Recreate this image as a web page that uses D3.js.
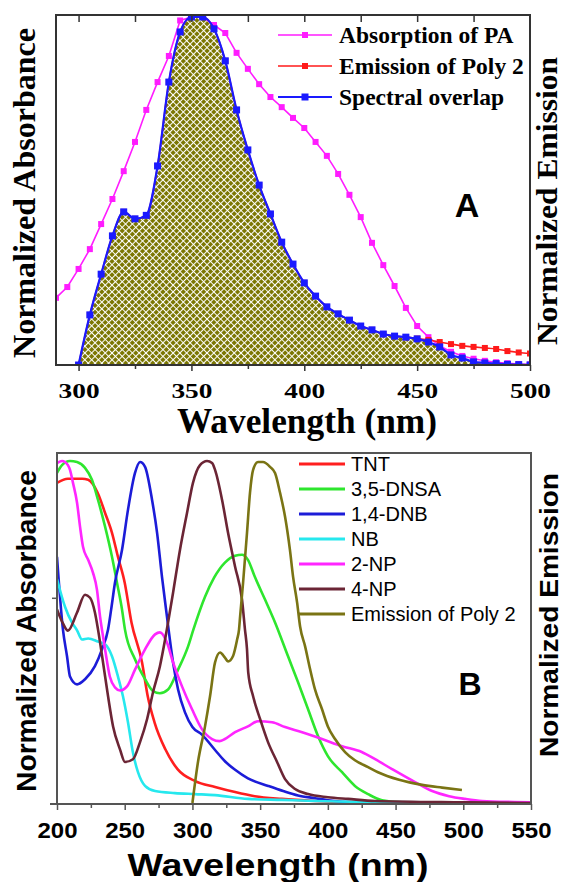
<!DOCTYPE html>
<html>
<head>
<meta charset="utf-8">
<script src="https://cdn.jsdelivr.net/npm/d3@7/dist/d3.min.js"></script>
<style>
  body { margin: 0; background: #fff; }
  .chart svg { display: block; }
</style>
</head>
<body>
<div class="chart"><svg></svg></div>
<script>
// ---- panel A data: [wavelength (nm), normalized value]
const absorptionPA = [[290,.193],[295,.224],[300,.276],[305,.333],[310,.405],[315,.477],[320,.557],[325,.641],
  [330,.733],[335,.813],[340,.888],[345,.99],[350,1.0],[355,1.0],[360,.977],[365,.954],[370,.897],[375,.851],
  [380,.807],[385,.770],[390,.741],[395,.710],[400,.681],[405,.641],[410,.601],[415,.549],[420,.489],[425,.425],
  [430,.351],[435,.287],[440,.227],[445,.164],[450,.112],[455,.080],[460,.055],[465,.038],[470,.026],[475,.018],
  [480,.012],[485,.008],[490,.005],[495,.003],[500,.002]]
const emissionPoly2A = [[300,0],[305,.144],[310,.261],[315,.371],[320,.44],[325,.42],[330,.43],[335,.572],
  [340,.813],[345,.957],[350,1.0],[355,1.0],[360,.966],[365,.874],[370,.733],[375,.618],[380,.517],[385,.434],
  [390,.353],[395,.290],[400,.236],[405,.198],[410,.167],[415,.147],[420,.129],[425,.112],[430,.101],[435,.089],
  [440,.083],[445,.080],[450,.076],[455,.072],[460,.066],[465,.060],[470,.055],[475,.052],[480,.049],[485,.046],
  [490,.040],[495,.036],[500,.033]]
const spectralOverlap = [[300,0],[305,.144],[310,.261],[315,.371],[320,.44],[325,.42],[330,.43],[335,.572],
  [340,.813],[345,.957],[350,1.0],[355,1.0],[360,.966],[365,.874],[370,.733],[375,.618],[380,.517],[385,.434],
  [390,.353],[395,.290],[400,.236],[405,.198],[410,.167],[415,.147],[420,.129],[425,.112],[430,.101],[435,.089],
  [440,.083],[445,.080],[450,.075],[455,.066],[460,.052],[465,.029],[470,.020],[475,.009],[480,.006],[485,.004],
  [490,.002],[495,.001],[500,0]]
const majorTicksA = [300, 350, 400, 450, 500]
const minorTicksA = [325, 375, 425, 475]
const topTicksA = [300, 325, 350, 375, 400, 425, 450, 475]
const legendA = ["Absorption of PA", "Emission of Poly 2", "Spectral overlap"]

// ---- panel B data: [wavelength (nm), normalized value]
const tnt = [[200,.936],[208,.948],[218.5,.948],[223,.945],[230,.907],[235.5,.848],[240.6,.79],[245,.72],
  [250,.644],[255,.528],[262.8,.411],[267,.312],[272,.236],[280,.157],[289,.099],[302,.064],[316.7,.047],
  [331.5,.032],[346,.02],[366,.012],[390.5,.006],[420,.002],[470,.001],[550,0]]
const dnsa = [[200,.965],[203.7,.988],[209.6,1.0],[214.8,.997],[220.7,.98],[225.8,.945],[230.3,.886],[235.5,.808],
  [240.6,.72],[244.3,.644],[248,.566],[250.2,.507],[257.6,.42],[265,.362],[270.9,.327],[276,.321],[282,.332],
  [289.4,.39],[296.8,.458],[300.7,.507],[309.3,.603],[316,.659],[324,.703],[331.5,.723],[336.6,.726],[341,.711],
  [346,.662],[353.6,.595],[361,.528],[370.6,.429],[378,.353],[385.4,.274],[392.8,.195],[400,.137],[410.5,.09],
  [420,.05],[429.7,.026],[440,.008],[455,.002],[550,0]]
const dnb = [[200,.72],[204.4,.507],[207.4,.429],[209.6,.37],[214.8,.347],[220.7,.362],[228,.4],[233.2,.449],
  [237.7,.507],[240,.566],[242.8,.644],[248,.74],[252.4,.857],[257.6,.965],[261.3,.997],[265,.983],[270.2,.886],
  [273.9,.79],[277.5,.662],[281.2,.545],[282.4,.507],[285.7,.411],[289.4,.332],[294.5,.265],[300,.222],
  [307,.2],[316.7,.155],[324,.122],[331.5,.097],[341,.072],[356,.05],[367,.035],[378,.022],[390.5,.014],
  [400,.008],[420,.002],[550,0]]
const nb = [[200,.655],[205.9,.574],[211,.528],[214.8,.505],[218.5,.478],[223,.481],[230.3,.472],[235.5,.464],
  [240.6,.429],[245,.37],[248.7,.312],[252.4,.236],[256,.149],[259.8,.09],[265,.05],[272.4,.035],[287,.029],
  [302,.026],[316.7,.023],[341,.012],[366,.009],[390.5,.006],[440,.003],[550,0]]
const np2 = [[200,.994],[203.7,1.0],[205.9,.997],[209.6,.974],[211.8,.936],[214.8,.878],[217,.808],[219.2,.749],
  [223,.711],[226.6,.673],[229.5,.624],[231.8,.545],[233.2,.507],[235.5,.449],[239,.37],[242.8,.338],[246.5,.329],
  [251.7,.341],[257.6,.39],[265,.449],[272.4,.493],[276,.499],[281.2,.469],[285.7,.411],[292.3,.341],[299.7,.274],
  [307,.216],[314.5,.187],[320,.181],[324,.187],[331.5,.207],[341,.224],[348.4,.239],[358.8,.236],[368.4,.222],
  [381,.207],[395.7,.187],[410.5,.166],[425,.149],[434.9,.128],[447.4,.099],[464.4,.061],[477,.035],[489.5,.02],
  [501.3,.012],[513.9,.006],[538,.003],[550,.002]]
const np4 = [[200,.566],[204.4,.525],[208.1,.504],[214.8,.557],[220.7,.609],[224.4,.6],[228,.557],[230.3,.507],
  [234,.411],[237.7,.312],[241.4,.224],[246.5,.157],[250.2,.12],[256.1,.128],[261.3,.178],[266.5,.245],
  [270.9,.324],[276,.4],[279.8,.478],[282,.528],[285.7,.615],[290.8,.74],[296,.848],[300.4,.936],[305.6,.988],
  [310.8,1.0],[314.5,.994],[316.7,.974],[321.9,.886],[326.3,.79],[331.5,.691],[336.6,.595],[338.8,.507],
  [340.3,.449],[341.2,.382],[344.8,.312],[350,.245],[355.8,.178],[362.5,.12],[368.4,.07],[375.8,.041],
  [385.4,.026],[400,.017],[415,.012],[434.9,.006],[500,.002],[550,0]]
const emissionPoly2B = [[300,0],[304.1,.12],[309.3,.224],[313,.312],[316.7,.411],[320.4,.44],[324,.425],
  [326.3,.414],[330,.43],[333,.478],[334.4,.507],[335.2,.545],[337.4,.644],[340.3,.79],[342.5,.907],[344.8,.974],
  [348.4,.997],[352.1,.997],[357.3,.983],[361,.965],[364.7,.907],[368.4,.837],[372,.74],[374.3,.662],[377.3,.586],
  [379.5,.516],[383.2,.458],[386.9,.391],[390.5,.332],[395.7,.274],[400,.224],[405.3,.187],[412.7,.149],
  [420,.125],[429.7,.105],[437,.09],[452.6,.068],[469.6,.053],[484.3,.045],[499,.038]]
const majorTicksB = [200, 250, 300, 350, 400, 450, 500, 550]
const minorTicksB = [225, 275, 325, 375, 425, 475, 525]
const leftTicksB = [0.6]
const legendB = ["TNT", "3,5-DNSA", "1,4-DNB", "NB", "2-NP", "4-NP", "Emission of Poly 2"]

var width = 564, height = 882
var serif = "'Liberation Serif', 'Times New Roman', serif"
var sans = "'Liberation Sans', Arial, sans-serif"

let svg = d3.select(".chart").select("svg")
  .attr("width", width)
  .attr("height", height)
svg.append("rect").attr("width", width).attr("height", height).attr("fill", "#fff")
let defs = svg.append("defs")

// white crosshatch on olive, used under the overlap curve
let hatch = defs.append("pattern")
  .attr("id", "hatch")
  .attr("patternUnits", "userSpaceOnUse")
  .attr("width", 4.8)
  .attr("height", 4.8)
  .attr("patternTransform", "rotate(45)")
hatch.append("rect").attr("width", 4.8).attr("height", 4.8).attr("fill", "#7a7500")
hatch.append("path")
  .attr("d", "M2.4,0V4.8M0,2.4H4.8")
  .attr("stroke", "#fff")
  .attr("stroke-width", 1.1)

function label(g, txt, x, y, o) {
  let t = g.append("text")
    .attr("transform", "translate(" + x + "," + y + ")" + (o.rotate ? " rotate(-90)" : ""))
    .attr("text-anchor", o.anchor || "middle")
    .attr("font-family", o.family)
    .attr("font-size", o.size)
    .attr("font-weight", o.weight || "bold")
    .attr("fill", "#000")
    .text(txt)
  if (o.len) t.attr("textLength", o.len).attr("lengthAdjust", "spacingAndGlyphs")
  return t
}

function styleTicks(g, color) {
  g.select(".domain").remove()
  g.selectAll(".tick line").attr("stroke", color).attr("stroke-width", 1.5)
}

function styleLabels(g, family, size, len) {
  g.selectAll(".tick text")
    .attr("fill", "#000")
    .attr("font-family", family)
    .attr("font-size", size)
    .attr("font-weight", "bold")
    .attr("textLength", len)
    .attr("lengthAdjust", "spacingAndGlyphs")
}

// ================= panel A =================
const A = {left: 56, right: 530, top: 15, bottom: 365}
const xA = d3.scaleLinear().domain([290, 500]).range([A.left, A.right])
const yA = d3.scaleLinear().domain([0, 1]).range([A.bottom, 17])

defs.append("clipPath").attr("id", "clipA").append("rect")
  .attr("x", A.left).attr("y", A.top)
  .attr("width", A.right - A.left).attr("height", A.bottom - A.top)

let gA = svg.append("g").attr("class", "panel-a")
let plotA = gA.append("g").attr("clip-path", "url(#clipA)")

let areaA = d3.area()
  .x(d => xA(d[0]))
  .y0(yA(0))
  .y1(d => yA(d[1]))
  .curve(d3.curveMonotoneX)
plotA.append("path").datum(spectralOverlap).attr("d", areaA).attr("fill", "url(#hatch)")

const seriesA = [
  {data: absorptionPA, color: "#ff1cff", w: 1.6, m: 6, curve: d3.curveLinear},
  {data: emissionPoly2A, color: "#ff1a1a", w: 1.6, m: 6, curve: d3.curveMonotoneX},
  {data: spectralOverlap, color: "#1a1aff", w: 2.2, m: 7, curve: d3.curveMonotoneX}
]

seriesA.forEach(s => {
  let line = d3.line().x(d => xA(d[0])).y(d => yA(d[1])).curve(s.curve)
  plotA.append("path").datum(s.data)
    .attr("d", line)
    .attr("fill", "none")
    .attr("stroke", s.color)
    .attr("stroke-width", s.w)
  plotA.append("g").selectAll("rect").data(s.data).join("rect")
    .attr("x", d => xA(d[0]) - s.m / 2)
    .attr("y", d => yA(d[1]) - s.m / 2)
    .attr("width", s.m)
    .attr("height", s.m)
    .attr("fill", s.color)
})

// axes
gA.append("g")
  .attr("transform", "translate(0," + A.bottom + ")")
  .call(d3.axisBottom(xA).tickValues(majorTicksA).tickSize(6).tickSizeOuter(0).tickPadding(11))
  .call(g => styleTicks(g, "#333"))
  .call(g => styleLabels(g, serif, 22, 41))
gA.append("g")
  .attr("transform", "translate(0," + A.bottom + ")")
  .call(d3.axisBottom(xA).tickValues(minorTicksA).tickSize(4).tickFormat(""))
  .call(g => styleTicks(g, "#333"))
gA.append("g")
  .attr("transform", "translate(0," + A.top + ")")
  .call(d3.axisTop(xA).tickValues(topTicksA).tickSize(-7).tickFormat(""))
  .call(g => styleTicks(g, "#333"))
gA.append("rect")
  .attr("x", A.left).attr("y", A.top)
  .attr("width", A.right - A.left).attr("height", A.bottom - A.top)
  .attr("fill", "none")
  .attr("stroke", "#333")
  .attr("stroke-width", 2)

// legend
legendA.forEach((name, i) => {
  let s = seriesA[i]
  let y = 35 + i * 31
  gA.append("line")
    .attr("x1", 278).attr("x2", 332).attr("y1", y).attr("y2", y)
    .attr("stroke", s.color).attr("stroke-width", s.w)
  gA.append("rect")
    .attr("x", 305 - s.m / 2).attr("y", y - s.m / 2)
    .attr("width", s.m).attr("height", s.m)
    .attr("fill", s.color)
  label(gA, name, 339, y + 8, {family: serif, size: 23.5, anchor: "start"})
})

label(gA, "Normalized Absorbance", 35, 193, {family: serif, size: 32, rotate: true, len: 330})
label(gA, "Normalized Emission", 557, 201, {family: serif, size: 30, rotate: true, len: 288})
label(gA, "Wavelength (nm)", 307, 433, {family: serif, size: 35, len: 260})
label(gA, "A", 467, 217, {family: sans, size: 34})

// ================= panel B =================
const B = {left: 57, right: 531, top: 453, bottom: 804}
const xB = d3.scaleLinear().domain([200, 550]).range([B.left, B.right])
const yB = d3.scaleLinear().domain([0, 1]).range([B.bottom - 1, 461])

defs.append("clipPath").attr("id", "clipB").append("rect")
  .attr("x", B.left).attr("y", B.top)
  .attr("width", B.right - B.left).attr("height", B.bottom - B.top)

let gB = svg.append("g").attr("class", "panel-b")
let plotB = gB.append("g").attr("clip-path", "url(#clipB)")

const seriesB = [
  {data: tnt, color: "#ff1f1f"},
  {data: dnsa, color: "#2ee62e"},
  {data: dnb, color: "#1c1cd8"},
  {data: nb, color: "#26e8ee"},
  {data: np2, color: "#ff26ff"},
  {data: np4, color: "#6b2535"},
  {data: emissionPoly2B, color: "#7a7414"}
]

let lineB = d3.line().x(d => xB(d[0])).y(d => yB(d[1])).curve(d3.curveMonotoneX)
seriesB.forEach(s => {
  plotB.append("path").datum(s.data)
    .attr("d", lineB)
    .attr("fill", "none")
    .attr("stroke", s.color)
    .attr("stroke-width", 2.6)
    .attr("stroke-linejoin", "round")
})

gB.append("g")
  .attr("transform", "translate(0," + B.bottom + ")")
  .call(d3.axisBottom(xB).tickValues(majorTicksB).tickSize(6).tickSizeOuter(0).tickPadding(12))
  .call(g => styleTicks(g, "#555"))
  .call(g => styleLabels(g, sans, 22, 40))
gB.append("g")
  .attr("transform", "translate(0," + B.bottom + ")")
  .call(d3.axisBottom(xB).tickValues(minorTicksB).tickSize(4).tickFormat(""))
  .call(g => styleTicks(g, "#555"))
gB.append("g")
  .attr("transform", "translate(" + B.left + ",0)")
  .call(d3.axisLeft(yB).tickValues(leftTicksB).tickSize(5).tickFormat(""))
  .call(g => styleTicks(g, "#555"))
gB.append("rect")
  .attr("x", B.left).attr("y", B.top)
  .attr("width", B.right - B.left).attr("height", B.bottom - B.top)
  .attr("fill", "none")
  .attr("stroke", "#555")
  .attr("stroke-width", 2)
gB.append("line")
  .attr("x1", 50).attr("x2", B.left).attr("y1", B.bottom).attr("y2", B.bottom)
  .attr("stroke", "#555").attr("stroke-width", 2)

legendB.forEach((name, i) => {
  let y = 464 + i * 25
  gB.append("line")
    .attr("x1", 299).attr("x2", 345).attr("y1", y).attr("y2", y)
    .attr("stroke", seriesB[i].color).attr("stroke-width", 3)
  label(gB, name, 351, y + 7, {family: sans, size: 20, anchor: "start", weight: "normal"})
})

label(gB, "Normalized Absorbance", 36, 631, {family: sans, size: 27, rotate: true, len: 322})
label(gB, "Normalized Emission", 558, 615, {family: sans, size: 26, rotate: true, len: 284})
label(gB, "Wavelength (nm)", 278, 876, {family: sans, size: 32, len: 301})
label(gB, "B", 470, 695, {family: sans, size: 32})
</script>
</body>
</html>
